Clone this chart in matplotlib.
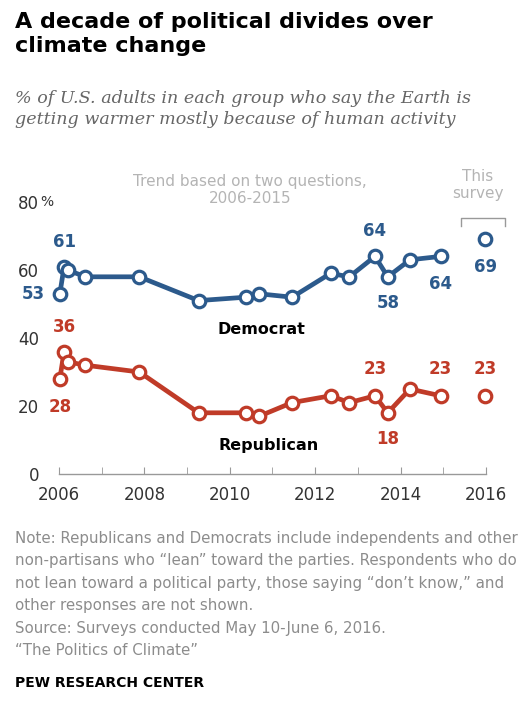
import matplotlib
matplotlib.use("Agg")
import matplotlib.pyplot as plt

W, H = 520, 711

years = [2006.02, 2006.12, 2006.2, 2006.62, 2007.88, 2009.27, 2010.37, 2010.69,
         2011.46, 2012.36, 2012.8, 2013.4, 2013.7, 2014.22, 2014.94]
dem = [53, 61, 60, 58, 58, 51, 52, 53, 52, 59, 58, 64, 58, 63, 64]
rep = [28, 36, 33, 32, 30, 18, 18, 17, 21, 23, 21, 23, 18, 25, 23]
survey_year = 2015.98
dem_2016 = 69
rep_2016 = 23

year_ticks = [2006, 2008, 2010, 2012, 2014, 2016]
value_ticks = [0, 20, 40, 60, 80]

BLUE = "#2c5a8c"
RED = "#c03b28"
GREY = "#8c8c8c"
LIGHT = "#b4b4b4"


def fx(px):
    return px / W


def fy(py):
    return 1 - py / H


fig = plt.figure(figsize=(W / 100, H / 100), dpi=100)
# axes placed so that 2006 -> x=59px, 2016 -> x=486px, 0 -> y=474px, 80 -> y=202px
ax = fig.add_axes([fx(41.9), fy(474), fx(511.6) - fx(41.9), fy(202) - fy(474)])
ax.set_xlim(2005.6, 2016.6)
ax.set_ylim(0, 80)

line_kw = dict(lw=3.4, marker="o", ms=9, mfc="white", mew=2.3,
               solid_joinstyle="round", solid_capstyle="round", clip_on=False, zorder=3)
ax.plot(years, dem, color=BLUE, **line_kw)
ax.plot(years, rep, color=RED, **line_kw)
ax.plot([survey_year], [dem_2016], color=BLUE, **line_kw)
ax.plot([survey_year], [rep_2016], color=RED, **line_kw)

for s in ["top", "right", "left"]:
    ax.spines[s].set_visible(False)
ax.spines["bottom"].set_bounds(2006, 2016)
ax.spines["bottom"].set_color("#999999")
ax.spines["bottom"].set_linewidth(1.0)

ax.set_xticks(year_ticks)
ax.set_xticks(range(2006, 2017), minor=True)
ax.tick_params(axis="x", which="both", direction="in", length=5, color="#999999",
               labelsize=12, labelcolor="#333333", pad=9)
ax.set_yticks(value_ticks)
ax.tick_params(axis="y", length=0, labelsize=12, labelcolor="#333333", pad=2)
ax.text(-0.003, 80, "%", transform=ax.get_yaxis_transform(), ha="left", va="center",
        fontsize=10, color="#333333")

lab_kw = dict(textcoords="offset points", fontsize=12, fontweight="bold",
              ha="center", va="center")
# Democrat labels
ax.annotate("61", (years[1], dem[1]), xytext=(0, 18), color=BLUE, **lab_kw)
ax.annotate("53", (years[0], dem[0]), xytext=(-19, 0), color=BLUE, **lab_kw)
ax.annotate("64", (years[11], dem[11]), xytext=(0, 18), color=BLUE, **lab_kw)
ax.annotate("58", (years[12], dem[12]), xytext=(0, -19), color=BLUE, **lab_kw)
ax.annotate("64", (years[14], dem[14]), xytext=(0, -20), color=BLUE, **lab_kw)
ax.annotate("69", (survey_year, dem_2016), xytext=(0, -20), color=BLUE, **lab_kw)
# Republican labels
ax.annotate("36", (years[1], rep[1]), xytext=(0, 18), color=RED, **lab_kw)
ax.annotate("28", (years[0], rep[0]), xytext=(0, -20), color=RED, **lab_kw)
ax.annotate("23", (years[11], rep[11]), xytext=(0, 19), color=RED, **lab_kw)
ax.annotate("18", (years[12], rep[12]), xytext=(0, -19), color=RED, **lab_kw)
ax.annotate("23", (years[14], rep[14]), xytext=(0, 19), color=RED, **lab_kw)
ax.annotate("23", (survey_year, rep_2016), xytext=(0, 19), color=RED, **lab_kw)

ax.text(2010.75, 42.5, "Democrat", ha="center", va="center", fontsize=11.5,
        fontweight="bold", color="black")
ax.text(2010.9, 8.3, "Republican", ha="center", va="center", fontsize=11.5,
        fontweight="bold", color="black")

# annotations above the plot
fig.text(fx(250), fy(190), "Trend based on two questions,\n2006-2015", ha="center",
         va="center", fontsize=11, color=LIGHT, linespacing=1.15)
fig.text(fx(478), fy(185), "This\nsurvey", ha="center", va="center", fontsize=11,
         color=LIGHT, linespacing=1.15)
fig.lines.append(plt.Line2D([fx(461), fx(461), fx(505), fx(505)],
                            [fy(226), fy(218), fy(218), fy(226)],
                            transform=fig.transFigure, color="#999999", lw=1))

# title and subtitle
fig.text(fx(15), fy(12), "A decade of political divides over\nclimate change",
         ha="left", va="top", fontsize=16, fontweight="bold", color="black",
         linespacing=1.22)
fig.text(fx(15), fy(90), "% of U.S. adults in each group who say the Earth is\n"
         "getting warmer mostly because of human activity",
         ha="left", va="top", fontsize=12.6, style="italic", family="DejaVu Serif",
         color="#666666", linespacing=1.3)

note = ("Note: Republicans and Democrats include independents and other\n"
        "non-partisans who \u201clean\u201d toward the parties. Respondents who do\n"
        "not lean toward a political party, those saying \u201cdon\u2019t know,\u201d and\n"
        "other responses are not shown.\n"
        "Source: Surveys conducted May 10-June 6, 2016.\n"
        "\u201cThe Politics of Climate\u201d")
fig.text(fx(15), fy(531), note, ha="left", va="top", fontsize=10.8, color=GREY,
         linespacing=1.62)
fig.text(fx(15), fy(683), "PEW RESEARCH CENTER", ha="left", va="center",
         fontsize=10, fontweight="bold", color="black")

fig.savefig("out.png", dpi=100)
